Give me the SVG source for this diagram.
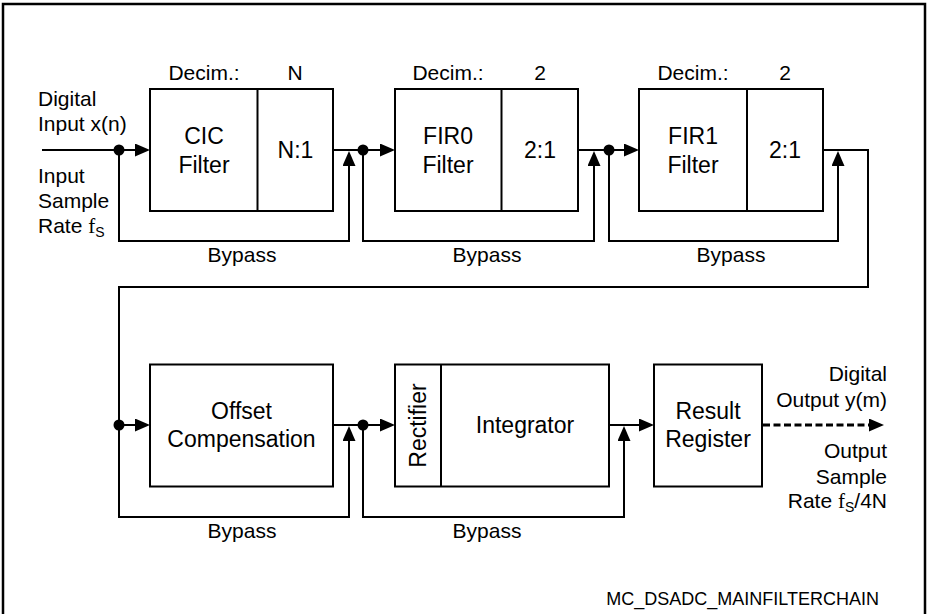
<svg xmlns="http://www.w3.org/2000/svg" width="929" height="614" viewBox="0 0 929 614">
<style>
.box{fill:#fff;stroke:#000;stroke-width:2}
.ln{fill:none;stroke:#000;stroke-width:2}
.dash{fill:none;stroke:#000;stroke-width:3;stroke-dasharray:7 3.5}
.bt{font-family:"Liberation Sans",Arial,sans-serif;font-size:23px;text-anchor:middle;fill:#000}
.lt{font-family:"Liberation Sans",Arial,sans-serif;font-size:21px;fill:#000}
.c{text-anchor:middle}
.e{text-anchor:end}
.ser{font-family:"Liberation Serif","Times New Roman",serif}
.sub{font-size:14px}
</style>
<defs>
<marker id="ah" markerUnits="userSpaceOnUse" markerWidth="16" markerHeight="14" refX="1" refY="6.5" orient="auto">
<path d="M0,0 L15,6.5 L0,13 z" fill="#000"/>
</marker>
</defs>
<rect width="929" height="614" fill="#fff"/>
<path d="M3,620 V4 H925 V620" fill="none" stroke="#000" stroke-width="2.5"/>

<g id="connectors">
<path class="ln" d="M42,150 H136" marker-end="url(#ah)"/>
<path class="ln" d="M119,150 V241 H349 V165" marker-end="url(#ah)"/>
<path class="ln" d="M333,150 H381" marker-end="url(#ah)"/>
<path class="ln" d="M363,150 V241 H594 V165" marker-end="url(#ah)"/>
<path class="ln" d="M578,150 H625" marker-end="url(#ah)"/>
<path class="ln" d="M609,150 V241 H838 V165" marker-end="url(#ah)"/>
<path class="ln" d="M823,150 H868 V287 H119 V517 H349 V440" marker-end="url(#ah)"/>
<path class="ln" d="M119,425 H136" marker-end="url(#ah)"/>
<path class="ln" d="M333,425 H381" marker-end="url(#ah)"/>
<path class="ln" d="M363,425 V517 H624 V440" marker-end="url(#ah)"/>
<path class="ln" d="M609,425 H640" marker-end="url(#ah)"/>
<path class="dash" d="M763,425 H870" marker-end="url(#ah)"/>
<circle cx="119" cy="150" r="5.5"/>
<circle cx="363" cy="150" r="5.5"/>
<circle cx="609" cy="150" r="5.5"/>
<circle cx="119" cy="425" r="5.5"/>
<circle cx="363" cy="425" r="5.5"/>
<text class="lt c" x="242" y="262">Bypass</text>
<text class="lt c" x="487" y="262">Bypass</text>
<text class="lt c" x="731" y="262">Bypass</text>
<text class="lt c" x="242" y="538">Bypass</text>
<text class="lt c" x="487" y="538">Bypass</text>
</g>

<g id="input-label">
<text class="lt" x="38" y="106">Digital</text>
<text class="lt" x="38" y="131">Input x(n)</text>
<text class="lt" x="38" y="183">Input</text>
<text class="lt" x="38" y="208">Sample</text>
<text class="lt" x="38" y="233">Rate <tspan class="ser">f</tspan><tspan class="sub" dy="4">S</tspan></text>
</g>

<g id="cic">
<rect class="box" x="150" y="89" width="183" height="122"/>
<line class="ln" x1="257.5" y1="89" x2="257.5" y2="211"/>
<text class="lt c" x="204" y="80">Decim.:</text>
<text class="lt c" x="295" y="80">N</text>
<text class="bt" x="204" y="144">CIC</text>
<text class="bt" x="204" y="173">Filter</text>
<text class="bt" x="295.5" y="158">N:1</text>
</g>

<g id="fir0">
<rect class="box" x="395" y="89" width="183" height="122"/>
<line class="ln" x1="501.5" y1="89" x2="501.5" y2="211"/>
<text class="lt c" x="448" y="80">Decim.:</text>
<text class="lt c" x="540" y="80">2</text>
<text class="bt" x="448" y="144">FIR0</text>
<text class="bt" x="448" y="173">Filter</text>
<text class="bt" x="540" y="158">2:1</text>
</g>

<g id="fir1">
<rect class="box" x="639" y="89" width="184" height="122"/>
<line class="ln" x1="747" y1="89" x2="747" y2="211"/>
<text class="lt c" x="693" y="80">Decim.:</text>
<text class="lt c" x="785" y="80">2</text>
<text class="bt" x="693" y="144">FIR1</text>
<text class="bt" x="693" y="173">Filter</text>
<text class="bt" x="785" y="158">2:1</text>
</g>

<g id="offset">
<rect class="box" x="150" y="364.5" width="183" height="122"/>
<text class="bt" x="241.5" y="419">Offset</text>
<text class="bt" x="241.5" y="447">Compensation</text>
</g>

<g id="integrator">
<rect class="box" x="395" y="364.5" width="214" height="122"/>
<line class="ln" x1="441" y1="364.5" x2="441" y2="486.5"/>
<text class="bt" transform="translate(426,425.5) rotate(-90)" x="0" y="0">Rectifier</text>
<text class="bt" x="525" y="433">Integrator</text>
</g>

<g id="result">
<rect class="box" x="654" y="364.5" width="108" height="122"/>
<text class="bt" x="708" y="419">Result</text>
<text class="bt" x="708" y="447">Register</text>
</g>

<g id="output-label">
<text class="lt e" x="887" y="381">Digital</text>
<text class="lt e" x="887" y="407">Output y(m)</text>
<text class="lt e" x="887" y="458">Output</text>
<text class="lt e" x="887" y="484">Sample</text>
<text class="lt e" x="887" y="508">Rate <tspan class="ser">f</tspan><tspan class="sub" dy="4">S</tspan><tspan dy="-4">/4N</tspan></text>
</g>

<text id="figure-id" class="lt e" x="879" y="605" style="font-size:18px">MC_DSADC_MAINFILTERCHAIN</text>
</svg>
